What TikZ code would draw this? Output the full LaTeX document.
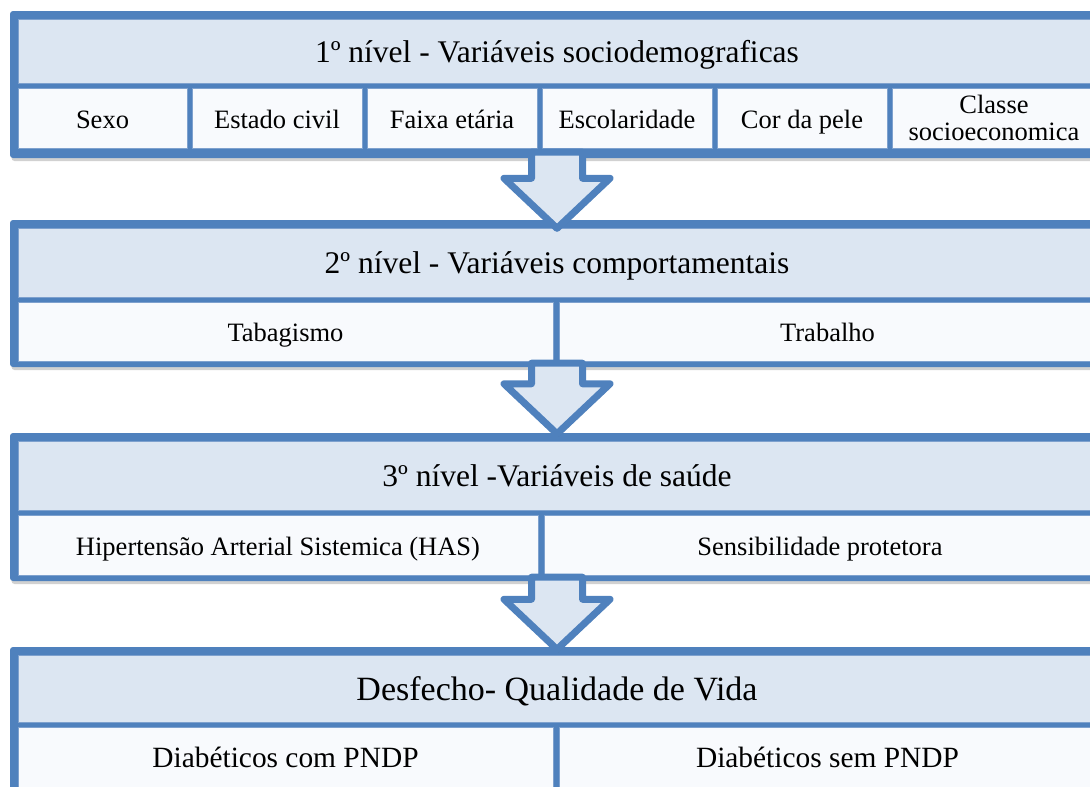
\documentclass[tikz,border=0pt]{standalone}
\usepackage{fontspec}
\setmainfont{LiberationSerif}[Extension=.ttf, UprightFont=*-Regular, BoldFont=*-Bold]
\usetikzlibrary{calc,shadows}

\definecolor{frameblue}{HTML}{4F81BD}
\definecolor{headfill}{HTML}{DCE6F2}
\definecolor{cellfill}{HTML}{F8FAFD}
\definecolor{edgeblue}{HTML}{7EA1CE}

% block arrow from a start point down to a tip
\newcommand{\levelarrow}[2]{%
  \draw[BlockArrow] let \p1=(#1), \p2=(#2) in
    (\x1-25.5pt,\y1) -- (\x1+25.5pt,\y1) -- (\x1+25.5pt,\y2+50pt)
    -- (\x1+53pt,\y2+50pt) -- (\x1,\y2) -- (\x1-53pt,\y2+50pt)
    -- (\x1-25.5pt,\y2+50pt) -- cycle;}

\begin{document}
\begin{tikzpicture}[x=1pt,y=-1pt,
      Frame/.style={
        fill=frameblue, rounded corners=3pt, inner sep=0pt,
        minimum width=1094pt,
        drop shadow={shadow xshift=1.5pt, shadow yshift=-3pt, opacity=0.3, fill=black!60},
      },
      HeadBox/.style={
        fill=headfill, draw=edgeblue, line width=1pt, inner sep=0pt,
        minimum width=1078pt, font=\fontsize{31.5}{33}\selectfont,
        text height=28pt, text depth=6pt,
      },
      CellBox/.style={
        fill=cellfill, draw=edgeblue, line width=1pt, inner sep=0pt,
        align=center, font=\fontsize{26.5}{26.5}\selectfont,
        text height=24pt, text depth=4pt,
      },
      BlockArrow/.style={
        fill=headfill, draw=frameblue, line width=7pt, line join=round,
        drop shadow={shadow xshift=1.5pt, shadow yshift=-3pt, opacity=0.3, fill=black!60},
      },
      ]
      \useasboundingbox (0,0) rectangle (1090,787);

      % 1st level
      \node[Frame, minimum height=147pt] (f1) at (557,84.5) {};
      \node[HeadBox, minimum height=64pt] (h1) at (557,51) {1º nível - Variáveis sociodemograficas};
      \node[CellBox, minimum width=169pt, minimum height=60pt] (sexo) at (102.5,118) {Sexo};
      \node[CellBox, minimum width=170pt, minimum height=60pt] (civil) at (277,118) {Estado civil};
      \node[CellBox, minimum width=170pt, minimum height=60pt] (faixa) at (452,118) {Faixa etária};
      \node[CellBox, minimum width=170pt, minimum height=60pt] (escol) at (627,118) {Escolaridade};
      \node[CellBox, minimum width=170pt, minimum height=60pt] (pele) at (802,118) {Cor da pele};
      \node[CellBox, minimum width=204pt, minimum height=60pt, text height=, text depth=] (classe) at (994,118) {Classe\\socioeconomica};

      % 2nd level
      \node[Frame, minimum height=147pt] (f2) at (557,293.5) {};
      \node[HeadBox, minimum height=69pt] (h2) at (557,262.5) {2º nível - Variáveis comportamentais};
      \node[CellBox, minimum width=535pt, minimum height=59pt] (tabag) at (285.5,331.5) {Tabagismo};
      \node[CellBox, minimum width=537pt, minimum height=59pt] (trab) at (827.5,331.5) {Trabalho};

      \coordinate (a1s) at ($(f1.south)+(0,-6)$);
      \coordinate (a1e) at ($(f2.north)+(0,8.5)$);
      \levelarrow{a1s}{a1e}

      % 3rd level
      \node[Frame, minimum height=148pt] (f3) at (557,507) {};
      \node[HeadBox, minimum height=69pt] (h3) at (557,475.5) {3º nível -Variáveis de saúde};
      \node[CellBox, minimum width=520pt, minimum height=60pt] (has) at (278,545) {Hipertensão Arterial Sistemica (HAS)};
      \node[CellBox, minimum width=552pt, minimum height=60pt] (sens) at (820,545) {Sensibilidade protetora};

      \coordinate (a2s) at ($(f2.south)+(0,-4)$);
      \coordinate (a2e) at ($(f3.north)+(0,1)$);
      \levelarrow{a2s}{a2e}

      % outcome
      \node[Frame, minimum height=146pt] (f4) at (557,720) {};
      \node[HeadBox, minimum height=67pt, font=\fontsize{34}{36}\selectfont, text height=30pt, text depth=6pt] (h4) at (557,688.5) {Desfecho- Qualidade de Vida};
      \node[CellBox, minimum width=535pt, minimum height=60pt, font=\fontsize{29.4}{31}\selectfont, text height=25pt, text depth=4pt] (com) at (285.5,757) {Diabéticos com PNDP};
      \node[CellBox, minimum width=537pt, minimum height=60pt, font=\fontsize{29.4}{31}\selectfont, text height=25pt, text depth=4pt] (sem) at (827.5,757) {Diabéticos sem PNDP};

      \coordinate (a3s) at ($(f3.south)+(0,-4)$);
      \coordinate (a3e) at ($(f4.north)+(0,2.5)$);
      \levelarrow{a3s}{a3e}
    \end{tikzpicture}
\end{document}
